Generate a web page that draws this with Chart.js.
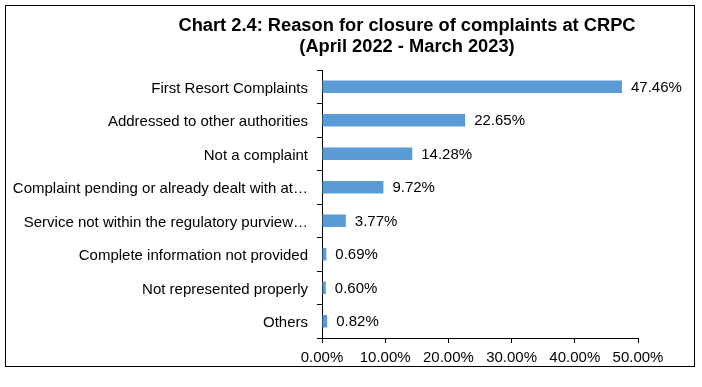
<!DOCTYPE html>
<html>
<head>
<meta charset="utf-8">
<script src="https://cdn.jsdelivr.net/npm/chart.js@4.4.0/dist/chart.umd.min.js"></script>
<style>
  body { margin: 0; background: #fff; }
  #box {
    position: absolute; left: 5px; top: 5px;
    width: 690px; height: 362px;
    box-sizing: border-box; border: 1px solid #000;
    background: #fff;
  }
  #chart { position: absolute; left: 0; top: 0; }
</style>
</head>
<body>
<div id="box"><canvas id="chart" width="688" height="360"></canvas></div>
<script>
// Datos
const categorias = [
  'First Resort Complaints',
  'Addressed to other authorities',
  'Not a complaint',
  'Complaint pending or already dealt with at…',
  'Service not within the regulatory purview…',
  'Complete information not provided',
  'Not represented properly',
  'Others'
];
const porcentajes = [47.46, 22.65, 14.28, 9.72, 3.77, 0.69, 0.60, 0.82];
const tituloLineas = [
  'Chart 2.4: Reason for closure of complaints at CRPC',
  '(April 2022 - March 2023)'
];
const ejeX = { min: 0, max: 50, step: 10 };

const FONT = 'Arial, "Liberation Sans", sans-serif';

// Titulo en dos lineas
const tituloPlugin = {
  id: 'tituloPlugin',
  afterDraw(chart) {
    const ctx = chart.ctx;
    ctx.save();
    ctx.fillStyle = '#000';
    ctx.font = 'bold 18.3px ' + FONT;
    ctx.textAlign = 'center';
    ctx.textBaseline = 'middle';
    tituloLineas.forEach((t, i) => ctx.fillText(t, 401, 20 + i * 21));
    ctx.restore();
  }
};

// Etiquetas de valor junto a cada barra
const etiquetasPlugin = {
  id: 'etiquetasPlugin',
  afterDatasetsDraw(chart) {
    const ctx = chart.ctx;
    const meta = chart.getDatasetMeta(0);
    ctx.save();
    ctx.fillStyle = '#000';
    ctx.font = '15px ' + FONT;
    ctx.textAlign = 'left';
    ctx.textBaseline = 'middle';
    meta.data.forEach((bar, i) => {
      ctx.fillText(porcentajes[i].toFixed(2) + '%', bar.x + 9, bar.y + 1);
    });
    ctx.restore();
  }
};

new Chart(document.getElementById('chart'), {
  type: 'bar',
  data: {
    labels: categorias,
    datasets: [{
      data: porcentajes,
      backgroundColor: '#5b9bd5',
      borderWidth: 0,
      categoryPercentage: 1,
      barPercentage: 0.375
    }]
  },
  options: {
    indexAxis: 'y',
    responsive: false,
    devicePixelRatio: 1,
    animation: false,
    layout: { padding: { top: 64, right: 56, bottom: 0, left: 0 } },
    plugins: {
      legend: { display: false },
      tooltip: { enabled: false },
      title: { display: false }
    },
    scales: {
      x: {
        min: ejeX.min,
        max: ejeX.max,
        afterFit(scale) { scale.height = 28; },
        ticks: {
          stepSize: ejeX.step,
          color: '#000',
          font: { family: FONT, size: 15 },
          padding: 6,
          maxRotation: 0,
          callback: v => v.toFixed(2) + '%'
        },
        grid: { drawOnChartArea: false, drawTicks: true, tickLength: 5, color: '#000' },
        border: { color: '#000', width: 1 }
      },
      y: {
        afterFit(scale) { scale.width = 316; },
        ticks: {
          color: '#000',
          font: { family: FONT, size: 15 },
          padding: 9,
          labelOffset: 2,
          autoSkip: false
        },
        grid: { drawOnChartArea: false, drawTicks: true, tickLength: 5, color: '#000', offset: true },
        border: { color: '#000', width: 1 }
      }
    }
  },
  plugins: [tituloPlugin, etiquetasPlugin]
});
</script>
</body>
</html>
